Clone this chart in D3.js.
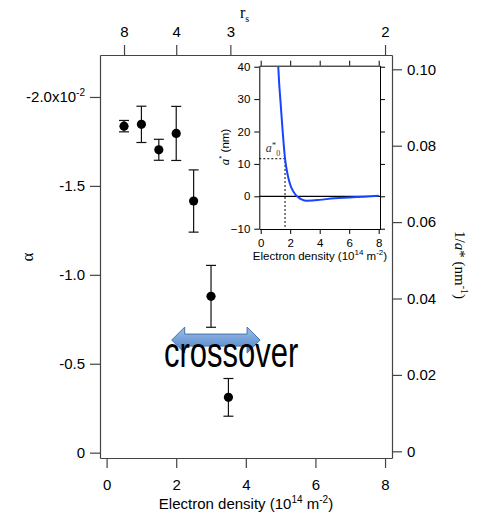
<!DOCTYPE html>
<html>
<head>
<meta charset="utf-8">
<script src="https://cdn.jsdelivr.net/npm/d3@7"></script>
<style>
body { margin: 0; background: #fff; }
text { font-family: "Liberation Sans", Arial, sans-serif; }
</style>
</head>
<body>
<div id="chart"></div>
<script>
// main plot: alpha against electron density
var density = [0.5, 1.0, 1.5, 2.0, 2.5, 3.0, 3.5];
var alpha = [-0.01836, -0.01846, -0.01703, -0.01795, -0.01415, -0.00879, -0.00311];
var alphaErr = [0.00032, 0.00102, 0.00059, 0.00152, 0.00175, 0.00174, 0.00106];

var xTicks = [0, 2, 4, 6, 8];
var alphaTicks = [-0.02, -0.015, -0.01, -0.005, 0];
var alphaLabels = ['-2.0x10', '-1.5', '-1.0', '-0.5', '0'];
var invATicks = [0, 0.02, 0.04, 0.06, 0.08, 0.10];
var invALabels = ['0', '0.02', '0.04', '0.06', '0.08', '0.10'];
var rsTicks = [8, 4, 3, 2];

// inset: a* against electron density
var insetDensity = [1.19, 1.25, 1.33, 1.41, 1.49, 1.57, 1.65, 1.75, 1.9, 2.05, 2.2, 2.4, 2.6, 2.8, 3.1, 3.5, 4.0, 5.0, 6.0, 7.0, 8.0];
var insetA = [40, 35, 30, 25, 20, 15.5, 11.6, 8.5, 5.2, 3.0, 1.6, 0.3, -0.5, -1.0, -1.35, -1.3, -1.1, -0.6, -0.35, -0.1, 0.15];
var insetXTicks = [0, 2, 4, 6, 8];
var insetYTicks = [-10, 0, 10, 20, 30, 40];
var a0 = {n: 1.65, a: 11.6};

var axisColor = '#444';
var sans = '"Liberation Sans", Arial, sans-serif';
var serif = '"Liberation Serif", "Times New Roman", serif';

var svg = d3.select('#chart').append('svg')
    .attr('width', 482)
    .attr('height', 515);

var x = d3.scaleLinear().domain([-0.19, 8.2]).range([100, 392]);
var yA = d3.scaleLinear().domain([0.0003, -0.02236]).range([458, 55]);
var yR = d3.scaleLinear().domain([-0.00175, 0.10374]).range([458, 55]);

function styleAxis(g, color, size) {
    g.selectAll('path, line').attr('stroke', color).attr('stroke-width', 1.2);
    g.selectAll('text').attr('fill', '#000').style('font-size', size + 'px')
        .style('font-family', sans);
}

// text with raised parts: list of [string, isSuperscript]
function richText(sel, parts, supSize, rise) {
    parts.forEach(function(p) {
        var t = sel.append('tspan').text(p[0]);
        if (p[1]) {
            t.attr('dy', -rise).style('font-size', supSize + 'px');
        } else if (sel.selectAll('tspan').size() > 1) {
            t.attr('dy', rise);
        }
    });
}

// bottom axis
var bottomAxis = svg.append('g')
    .attr('transform', 'translate(0,458)')
    .call(d3.axisBottom(x).tickValues(xTicks).tickSize(10).tickPadding(11).tickSizeOuter(0));
styleAxis(bottomAxis, axisColor, 15);

// top axis in r_s
var topAxis = svg.append('g')
    .attr('transform', 'translate(0,55)')
    .call(d3.axisTop(x)
        .tickValues(rsTicks.map(function(r) { return 32 / (r * r); }))
        .tickFormat(function(d, i) { return rsTicks[i]; })
        .tickSize(10).tickPadding(8).tickSizeOuter(0));
styleAxis(topAxis, axisColor, 15);

// left axis in alpha
var leftAxis = svg.append('g')
    .attr('transform', 'translate(100,0)')
    .call(d3.axisLeft(yA).tickValues(alphaTicks)
        .tickFormat(function(d, i) { return alphaLabels[i]; })
        .tickSize(10).tickPadding(5).tickSizeOuter(0));
styleAxis(leftAxis, axisColor, 15);
leftAxis.selectAll('.tick text').filter(function(d, i) { return i === 0; })
    .append('tspan').attr('dy', -6).style('font-size', '10px').text('-2');

// right axis in 1/a*
var rightAxis = svg.append('g')
    .attr('transform', 'translate(392,0)')
    .call(d3.axisRight(yR).tickValues(invATicks)
        .tickFormat(function(d, i) { return invALabels[i]; })
        .tickSize(10).tickPadding(5).tickSizeOuter(0));
styleAxis(rightAxis, axisColor, 15);

// axis titles
var xTitle = svg.append('text')
    .attr('x', 246).attr('y', 509)
    .attr('text-anchor', 'middle')
    .style('font-size', '15px');
richText(xTitle, [['Electron density (10', false], ['14', true], [' m', false], ['-2', true], [')', false]], 10, 6);

var rsTitle = svg.append('text')
    .attr('x', 240).attr('y', 18)
    .style('font-family', serif).style('font-size', '16px');
rsTitle.append('tspan').text('r');
rsTitle.append('tspan').attr('dy', 4).style('font-size', '10px').text('s');

svg.append('text')
    .attr('transform', 'translate(33,257) rotate(-90)')
    .attr('text-anchor', 'middle')
    .style('font-family', serif).style('font-size', '17px')
    .text('α');

var rTitle = svg.append('text')
    .attr('transform', 'translate(455,265) rotate(90)')
    .attr('text-anchor', 'middle')
    .style('font-family', serif).style('font-size', '15px');
rTitle.append('tspan').text('1/');
rTitle.append('tspan').style('font-style', 'italic').text('a');
rTitle.append('tspan').text('* (nm');
rTitle.append('tspan').attr('dy', -6).style('font-size', '10px').text('-1');
rTitle.append('tspan').attr('dy', 6).text(')');

// error bars and markers
var pts = density.map(function(d, i) { return {n: d, a: alpha[i], e: alphaErr[i]}; });
var bars = svg.append('g').attr('stroke', '#111').attr('stroke-width', 1.2);
pts.forEach(function(p) {
    var cx = x(p.n), y1 = yA(p.a - p.e), y2 = yA(p.a + p.e);
    bars.append('line').attr('x1', cx).attr('x2', cx).attr('y1', y1).attr('y2', y2);
    bars.append('line').attr('x1', cx - 5).attr('x2', cx + 5).attr('y1', y1).attr('y2', y1);
    bars.append('line').attr('x1', cx - 5).attr('x2', cx + 5).attr('y1', y2).attr('y2', y2);
});
svg.append('g').selectAll('circle')
    .data(pts)
    .enter().append('circle')
    .attr('cx', function(d) { return x(d.n); })
    .attr('cy', function(d) { return yA(d.a); })
    .attr('r', 4.6)
    .attr('fill', '#000');

// crossover arrow
var defs = svg.append('defs');
var grad = defs.append('linearGradient').attr('id', 'arrowGrad')
    .attr('x1', 0).attr('y1', 0).attr('x2', 0).attr('y2', 1);
grad.append('stop').attr('offset', '0%').attr('stop-color', '#9cc0ec');
grad.append('stop').attr('offset', '100%').attr('stop-color', '#4f82c4');

var ax1 = x(1.87), ax2 = x(4.41), ay = yA(-0.00633);
var hl = 13, hh = 13, sh = 6;
svg.append('path')
    .attr('d', 'M' + ax1 + ',' + ay +
        'L' + (ax1 + hl) + ',' + (ay - hh) +
        'L' + (ax1 + hl) + ',' + (ay - sh) +
        'L' + (ax2 - hl) + ',' + (ay - sh) +
        'L' + (ax2 - hl) + ',' + (ay - hh) +
        'L' + ax2 + ',' + ay +
        'L' + (ax2 - hl) + ',' + (ay + hh) +
        'L' + (ax2 - hl) + ',' + (ay + sh) +
        'L' + (ax1 + hl) + ',' + (ay + sh) +
        'L' + (ax1 + hl) + ',' + (ay + hh) + 'Z')
    .attr('fill', 'url(#arrowGrad)')
    .attr('stroke', '#4272ad')
    .attr('stroke-width', 1);

svg.append('text')
    .attr('transform', 'translate(' + x(3.58) + ',' + yA(-0.00483) + ') scale(1,1.35)')
    .attr('text-anchor', 'middle')
    .style('font-size', '31px')
    .text('crossover');

// ---- inset ----
var ix = d3.scaleLinear().domain([-0.095, 8.088]).range([259.3, 380]);
var iy = d3.scaleLinear().domain([-10.09, 40.31]).range([229, 65.7]);

svg.append('rect')
    .attr('x', 259.3).attr('y', 65.7)
    .attr('width', 380 - 259.3).attr('height', 229 - 65.7)
    .attr('fill', '#fff');

defs.append('clipPath').attr('id', 'insetClip')
    .append('rect')
    .attr('x', 259.3).attr('y', 65.7)
    .attr('width', 380 - 259.3).attr('height', 229 - 65.7);

var iBottom = svg.append('g').attr('transform', 'translate(0,229)')
    .call(d3.axisBottom(ix).tickValues(insetXTicks).tickSize(5).tickPadding(5).tickSizeOuter(0));
var iTop = svg.append('g').attr('transform', 'translate(0,65.7)')
    .call(d3.axisTop(ix).tickValues(insetXTicks).tickFormat('').tickSize(5).tickSizeOuter(0));
var iLeft = svg.append('g').attr('transform', 'translate(259.3,0)')
    .call(d3.axisLeft(iy).tickValues(insetYTicks).tickSize(5).tickPadding(4).tickSizeOuter(0));
var iRight = svg.append('g').attr('transform', 'translate(380,0)')
    .call(d3.axisRight(iy).tickValues(insetYTicks).tickFormat('').tickSize(5).tickSizeOuter(0));
[iBottom, iTop, iLeft, iRight].forEach(function(g) {
    g.selectAll('path, line').attr('stroke', '#000').attr('stroke-width', 1);
    g.selectAll('text').attr('fill', '#000').style('font-size', '11.5px').style('font-family', sans);
});

// zero line
svg.append('line')
    .attr('x1', ix(-0.095)).attr('x2', ix(8.088))
    .attr('y1', iy(0)).attr('y2', iy(0))
    .attr('stroke', '#000').attr('stroke-width', 1.2);

// dashed guide to a*_0
svg.append('path')
    .attr('d', 'M' + ix(-0.095) + ',' + iy(a0.a) + 'H' + ix(a0.n) + 'V' + iy(-10.09))
    .attr('fill', 'none')
    .attr('stroke', '#000')
    .attr('stroke-width', 1)
    .attr('stroke-dasharray', '2,2');

var curve = insetDensity.map(function(d, i) { return [d, insetA[i]]; });
svg.append('path')
    .datum(curve)
    .attr('clip-path', 'url(#insetClip)')
    .attr('d', d3.line()
        .x(function(d) { return ix(d[0]); })
        .y(function(d) { return iy(d[1]); })
        .curve(d3.curveMonotoneX))
    .attr('fill', 'none')
    .attr('stroke', '#1744ff')
    .attr('stroke-width', 2);

var a0Label = svg.append('text')
    .attr('x', ix(0.35)).attr('y', iy(13.6))
    .attr('fill', '#333')
    .style('font-family', serif).style('font-size', '12px');
a0Label.append('tspan').style('font-style', 'italic').text('a');
a0Label.append('tspan').attr('dy', -4).style('font-size', '9px').text('*');
a0Label.append('tspan').attr('dy', 8).style('font-size', '8px').text('0');

var iyTitle = svg.append('text')
    .attr('transform', 'translate(229,147) rotate(-90)')
    .attr('text-anchor', 'middle')
    .style('font-size', '11.5px');
iyTitle.append('tspan').style('font-family', serif).style('font-style', 'italic').style('font-size', '13px').text('a');
iyTitle.append('tspan').attr('dy', -5).style('font-size', '8px').text('*');
iyTitle.append('tspan').attr('dy', 5).text(' (nm)');

var ixTitle = svg.append('text')
    .attr('x', 320).attr('y', 260)
    .attr('text-anchor', 'middle')
    .style('font-size', '11.5px');
richText(ixTitle, [['Electron density (10', false], ['14', true], [' m', false], ['-2', true], [')', false]], 8, 5);
</script>
</body>
</html>
